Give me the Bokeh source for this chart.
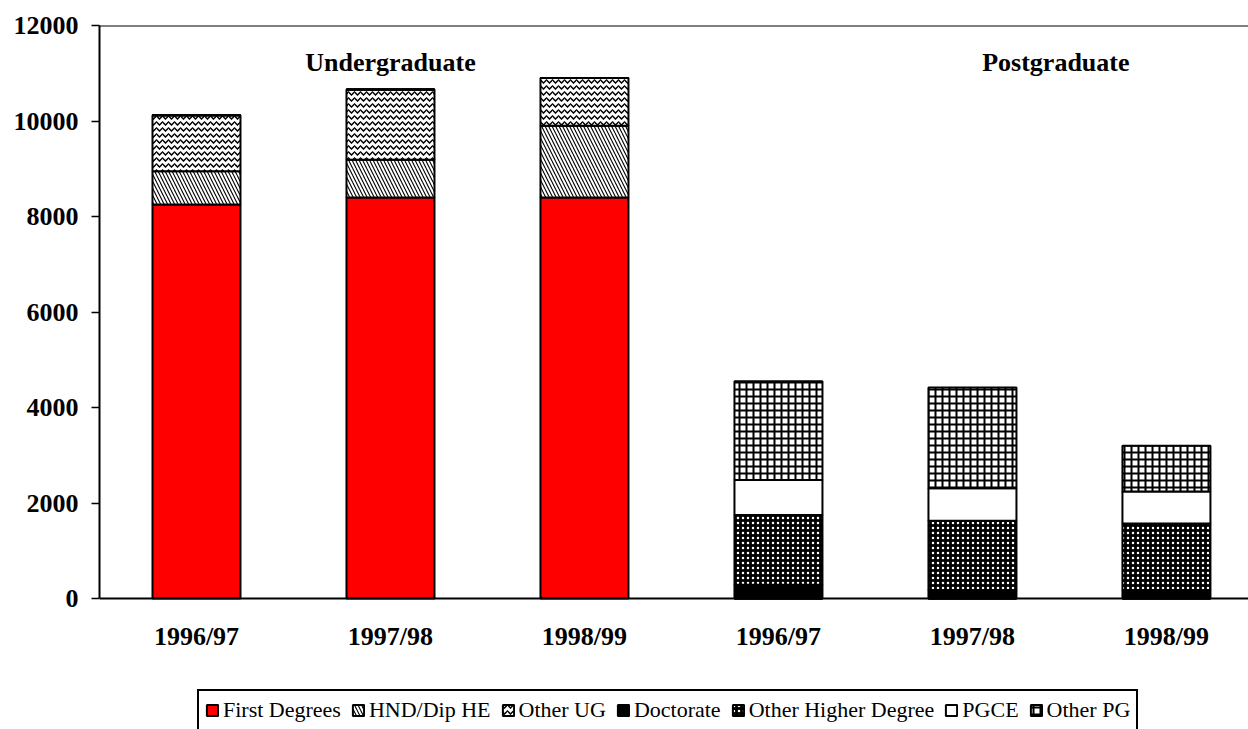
from bokeh.plotting import figure
from bokeh.models import Range1d, FixedTicker, Label, Span, Legend, LegendItem, ColumnDataSource
from bokeh.core.properties import value
from bokeh.embed import file_html
from bokeh.resources import INLINE

# ---- data ----
categories = ["1996/97", "1997/98", "1998/99", "1996/97", "1997/98", "1998/99"]
first_degrees = [8250, 8400, 8400, 0, 0, 0]
hnd_dip_he = [700, 790, 1500, 0, 0, 0]
other_ug = [1170, 1470, 1000, 0, 0, 0]
doctorate = [0, 0, 0, 290, 180, 180]
other_higher_degree = [0, 0, 0, 1460, 1450, 1390]
pgce = [0, 0, 0, 730, 680, 670]
other_pg = [0, 0, 0, 2070, 2110, 960]
series_names = ["First Degrees", "HND/Dip HE", "Other UG", "Doctorate",
                "Other Higher Degree", "PGCE", "Other PG"]
group_labels = ["Undergraduate", "Postgraduate"]
y_ticks = [0, 2000, 4000, 6000, 8000, 10000, 12000]

FONT = "Liberation Serif"
xs = [i + 0.5 for i in range(len(categories))]
keys = ["fd", "hnd", "oug", "doc", "ohd", "pgce", "opg"]
src = ColumnDataSource(dict(x=xs, fd=first_degrees, hnd=hnd_dip_he, oug=other_ug,
                            doc=doctorate, ohd=other_higher_degree, pgce=pgce, opg=other_pg,
                            cat=categories))

# frame: top at 25px, value 0 at 598px (573px for 12000), frame continues to 729px
Y_MAX = 12000
Y_MIN = -Y_MAX * (729 - 598) / 573.0

p = figure(width=1248, height=729, x_range=Range1d(0, 5.923), y_range=Range1d(Y_MIN, Y_MAX),
           output_backend="svg", toolbar_location=None, x_axis_location=None,
           min_border_left=99, min_border_right=0, min_border_top=25, min_border_bottom=0)
p.outline_line_color = None
p.xgrid.visible = False
p.ygrid.visible = False

fills = ["#ff0000", "white", "white", "black", "black", "white", "white"]
hatches = [None, "left_diagonal_line", "horizontal_wave", None, "dot", None, "cross"]
hcolors = ["black", "black", "black", "black", "white", "black", "black"]
hscales = [8, 7, 6, 8, 5, 8, 7]
hweights = [1, 1.1, 1.5, 1, 1.5, 1, 2]

renderers = p.vbar_stack(keys, x="x", width=0.4536, source=src,
                         fill_color=fills, line_color="black", line_width=2,
                         hatch_pattern=hatches, hatch_color=hcolors,
                         hatch_scale=hscales, hatch_weight=hweights)

# top border and x-axis line
p.add_layout(Span(location=Y_MAX, dimension="width", line_color="black", line_width=2))
p.add_layout(Span(location=0, dimension="width", line_color="black", line_width=2))

# category labels under the bars
p.text(x="x", y=-796, text="cat", source=src, text_font=value(FONT), text_font_style="bold",
       text_font_size="26px", text_color="black", text_align="center", text_baseline="middle")

# y axis
p.yaxis.bounds = (0, Y_MAX)
p.yaxis.ticker = FixedTicker(ticks=y_ticks)
p.yaxis.minor_tick_line_color = None
p.yaxis.axis_line_width = 2
p.yaxis.major_tick_line_width = 1.5
p.yaxis.major_tick_out = 8
p.yaxis.major_tick_in = 0
p.yaxis.major_label_standoff = 13
p.yaxis.major_label_text_font = FONT
p.yaxis.major_label_text_font_style = "bold"
p.yaxis.major_label_text_font_size = "26px"
p.yaxis.major_label_text_color = "black"

for txt, xv in zip(group_labels, [1.5, 4.93]):
    p.add_layout(Label(x=xv, y=11225, text=txt, text_font=FONT, text_font_style="bold",
                       text_font_size="26px", text_color="black",
                       text_align="center", text_baseline="middle"))

legend = Legend(items=[LegendItem(label=n, renderers=[r]) for n, r in zip(series_names, renderers)],
                orientation="horizontal", location=(98, -2),
                label_text_font=FONT, label_text_font_size="22px", label_text_color="black",
                glyph_width=14, glyph_height=14, label_standoff=4, spacing=10,
                padding=6, margin=0, border_line_color="black", border_line_width=2,
                border_line_alpha=1,
                background_fill_color="white", background_fill_alpha=1)
p.add_layout(legend, "center")

open("out.html", "w").write(file_html(p, INLINE))
